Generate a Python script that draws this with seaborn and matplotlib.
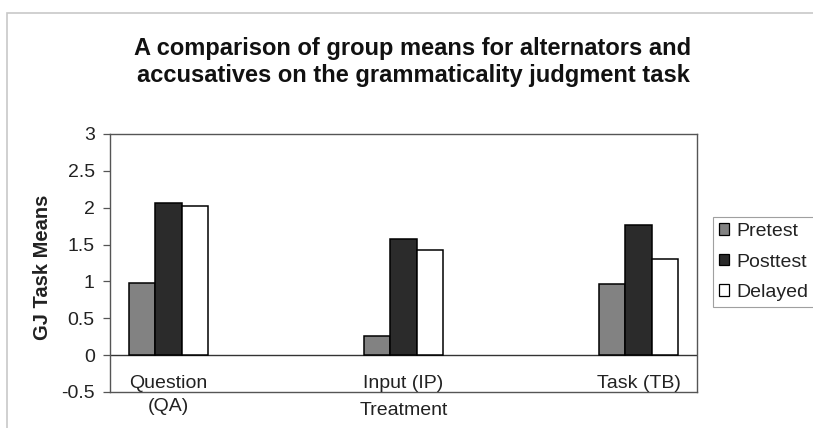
import matplotlib
matplotlib.use("Agg")
import matplotlib.pyplot as plt
import seaborn as sns
import pandas as pd
from matplotlib.patches import Rectangle

categories = ["Question\n(QA)", "Input (IP)", "Task (TB)"]
series = ["Pretest", "Posttest", "Delayed"]
pretest = [0.98, 0.26, 0.97]
posttest = [2.06, 1.58, 1.76]
delayed = [2.03, 1.42, 1.31]
yticks = [-0.5, 0, 0.5, 1, 1.5, 2, 2.5, 3]
ytick_labels = ["-0.5", "0", "0.5", "1", "1.5", "2", "2.5", "3"]

rows = []
for name, vals in zip(series, [pretest, posttest, delayed]):
    for c, v in zip(categories, vals):
        rows.append({"Treatment": c, "Series": name, "Mean": v})
df = pd.DataFrame(rows)

sns.set_theme(style="white")
plt.rcParams["font.family"] = ["Liberation Sans", "DejaVu Sans"]

fig = plt.figure(figsize=(8.13, 4.28), dpi=100)
ax_left, ax_right = 110 / 813, 697 / 813
ax_bottom, ax_top = (428 - 392) / 428, (428 - 134) / 428
ax = fig.add_axes([ax_left, ax_bottom, ax_right - ax_left, ax_top - ax_bottom])

palette = {"Pretest": "#828282", "Posttest": "#2b2b2b", "Delayed": "#ffffff"}
sns.barplot(data=df, x="Treatment", y="Mean", hue="Series", order=categories,
            hue_order=series, palette=palette, width=0.336, gap=0,
            edgecolor="black", linewidth=1.1, ax=ax, legend=True)

ax.set_xlim(-0.249, 2.249)
ax.set_ylim(-0.5, 3)
ax.set_yticks(yticks)
ax.set_yticklabels(ytick_labels, fontsize=14, color="#222222")
ax.tick_params(axis="y", length=5, width=0.9, color="#555555", left=True, pad=6)
ax.set_xticks([])
ax.axhline(0, color="#333333", lw=1.0, zorder=0.5)
for s in ax.spines.values():
    s.set_color("#555555")
    s.set_linewidth(1.0)
ax.set_xlabel("")
ax.set_ylabel("")

fig.text(42 / 813, 1 - 267 / 428, "GJ Task Means", rotation=90, ha="center", va="center",
         fontsize=14.5, fontweight="bold", color="#222222")

for i, c in enumerate(categories):
    ax.text(i, -0.27, c, ha="center", va="top", fontsize=14, linespacing=1.45, color="#222222",
            clip_on=False)
ax.text(1, -0.63, "Treatment", ha="center", va="top", fontsize=14, color="#222222")

leg = ax.legend(loc="upper left", bbox_to_anchor=(1.027, 0.678), frameon=True,
                fontsize=14, handlelength=0.55, handleheight=0.55,
                handletextpad=0.35, borderpad=0.3, labelspacing=0.7,
                fancybox=False, borderaxespad=0)
leg.get_frame().set_edgecolor("#888888")
leg.get_frame().set_linewidth(0.8)
for t in leg.get_texts():
    t.set_color("#222222")
for h in leg.legend_handles:
    h.set_edgecolor("black")
    h.set_linewidth(0.9)

fig.text(0.508, 1 - 62 / 428, "A comparison of group means for alternators and\naccusatives on the grammaticality judgment task",
         ha="center", va="center", fontsize=17, fontweight="bold", linespacing=1.27, color="#111111")

fig.patches.append(Rectangle((7 / 813, -0.05), 1.1, 1 - 13 / 428 + 0.05, transform=fig.transFigure,
                             fill=False, edgecolor="#c8c8c8", lw=1.2))

fig.savefig("out.png", dpi=100)
